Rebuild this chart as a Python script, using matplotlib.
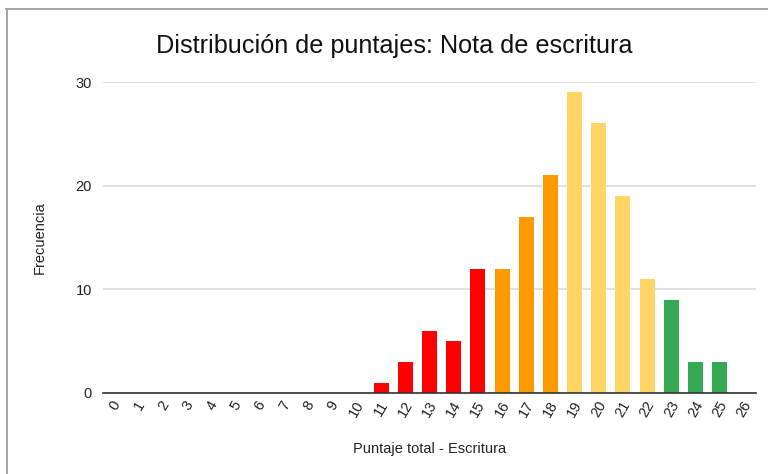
import numpy as np
import matplotlib
matplotlib.use("Agg")
import matplotlib.pyplot as plt
from matplotlib.lines import Line2D

plt.rcParams['font.family'] = ['Liberation Sans', 'DejaVu Sans']

# datos
puntajes = list(range(0, 27))
frecuencia = [0, 0, 0, 0, 0, 0, 0, 0, 0, 0, 0,
              1, 3, 6, 5, 12, 12, 17, 21, 29, 26, 19, 11, 9, 3, 3, 0]
rojo, naranja, amarillo, verde = "#ff0000", "#ff9900", "#ffd666", "#34a853"
colores = ([rojo] * 16 + [naranja] * 3 + [amarillo] * 4 + [verde] * 4)
y_ticks = [0, 10, 20, 30]

fig = plt.figure(figsize=(7.68, 4.74), dpi=100)
ax = fig.add_axes([0.1341, 0.1709, 0.8503, 0.6561])

x = np.arange(len(puntajes))
ax.bar(x, frecuencia, width=0.62, color=colores, zorder=3)

ax.set_xlim(-0.5, len(puntajes) - 0.5)
ax.set_ylim(0, 30)
ax.set_yticks(y_ticks)
ax.set_xticks(x)
ax.set_xticklabels([str(p) for p in puntajes], rotation=60, ha='center')
ax.tick_params(axis='x', length=0, pad=4, labelsize=10.5, labelcolor='#222222')
ax.tick_params(axis='y', length=0, pad=8, labelsize=10.5, labelcolor='#222222')

ax.grid(axis='y', color='#d9d9d9', linewidth=1.1, zorder=0)
for s in ['top', 'right', 'left']:
    ax.spines[s].set_visible(False)
ax.spines['bottom'].set_color('#333333')
ax.spines['bottom'].set_linewidth(1.2)
ax.spines['bottom'].set_zorder(4)

ax.set_ylabel("Frecuencia", fontsize=10.5, color='#222222', labelpad=21)
ax.set_xlabel("Puntaje total - Escritura", fontsize=10.5, color='#222222', labelpad=16)
fig.text(0.513, 0.903, "Distribución de puntajes: Nota de escritura",
         fontsize=18.2, color='#111111', ha='center', va='center')

# borde del recuadro (solo arriba e izquierda visibles)
fig.add_artist(Line2D([0.008, 1.0], [0.981, 0.981], color='#9e9e9e', linewidth=1.3))
fig.add_artist(Line2D([0.009, 0.009], [0.0, 0.981], color='#9e9e9e', linewidth=1.3))

fig.savefig("out.png", dpi=100)
